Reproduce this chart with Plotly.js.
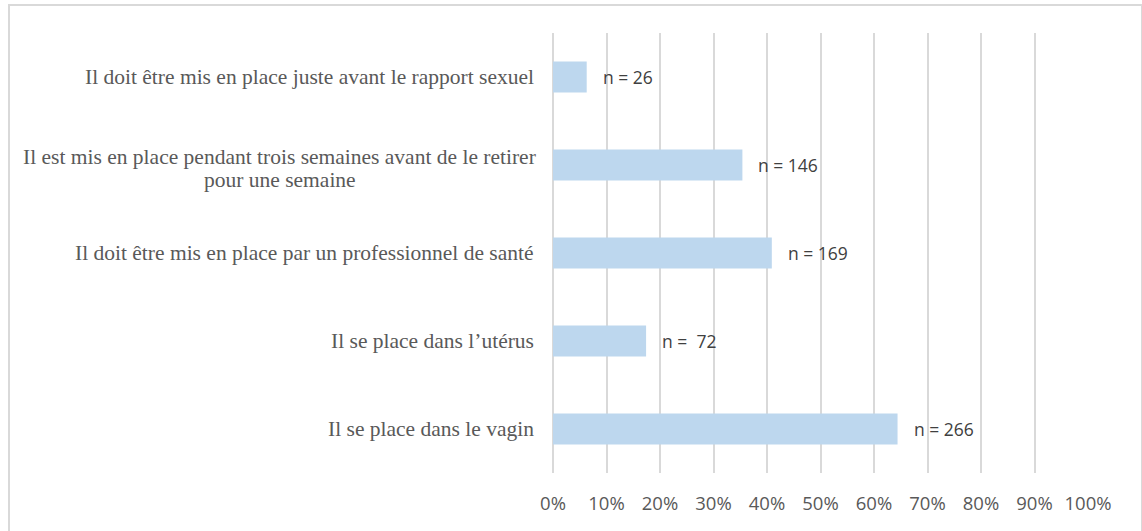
<!DOCTYPE html>
<html>
<head>
<meta charset="utf-8">
<script src="https://cdn.plot.ly/plotly-3.0.1.min.js"></script>
<style>
html,body{margin:0;padding:0;background:#fff;}
#wrap{position:relative;width:1142px;height:531px;overflow:hidden;}
#chart{width:1142px;height:531px;}
#frame{position:absolute;left:8px;top:4px;width:1131px;height:560px;border:2px solid #d9d9d9;pointer-events:none;}
</style>
</head>
<body>
<div id="wrap"><div id="chart"></div><div id="frame"></div></div>
<script>
const categories = [
  "Il doit être mis en place juste avant le rapport sexuel",
  "Il est mis en place pendant trois semaines avant de le retirer<br>pour une semaine",
  "Il doit être mis en place par un professionnel de santé",
  "Il se place dans l’utérus",
  "Il se place dans le vagin"
];
const percentValues = [6.3, 35.4, 40.9, 17.4, 64.4];
const countLabels = ["n = 26", "n = 146", "n = 169", "n =\u00a0\u00a072", "n = 266"];
const tickValues = [0,10,20,30,40,50,60,70,80,90,100];
const tickLabels = ["0%","10%","20%","30%","40%","50%","60%","70%","80%","90%","100%"];

const trace = {
  type: 'bar',
  orientation: 'h',
  y: categories,
  x: percentValues,
  marker: {color: '#bdd7ee'},
  width: 0.35,
  hoverinfo: 'skip'
};

const annotations = [];
categories.forEach((c, i) => {
  const lines = c.split('<br>');
  const n = lines.length;
  lines.forEach((ln, k) => {
    const off = n > 1 ? (k - (n - 1) / 2) * 23 + 3 : 0;
    annotations.push({
      xref: 'paper', yref: 'y', x: 0, y: c,
      xanchor: lines.length > 1 ? 'center' : 'right', yanchor: 'middle',
      xshift: 0, yshift: -off, showarrow: false, text: ln,
      font: {family: 'Liberation Serif', size: 21.5, color: '#595959'},
      _line: k, _n: n
    });
  });
  annotations.push({
    xref: 'x', yref: 'y', x: percentValues[i], y: c,
    xanchor: 'left', yanchor: 'middle',
    xshift: 14, showarrow: false, text: countLabels[i],
    font: {family: 'Open Sans', size: 17.5, color: '#404040'}
  });
});
// place category labels: single lines right-aligned at 17px left of the plot; multi-line blocks centred on the widest line
const plotLeft = 553;
annotations.forEach(a => {
  if (a._n === undefined) return;
  if (a._n === 1) { a.xshift = -17; }
});

const layout = {
  width: 1142, height: 531,
  margin: {l: 553, r: 54, t: 33, b: 58},
  paper_bgcolor: '#ffffff', plot_bgcolor: '#ffffff',
  showlegend: false,
  xaxis: {
    range: [0, 100], tickvals: tickValues, ticktext: tickLabels,
    showgrid: true, gridcolor: '#d9d9d9', gridwidth: 2,
    zeroline: true, zerolinecolor: '#d9d9d9', zerolinewidth: 2,
    showline: false, ticks: '', ticklabelstandoff: 17,
    tickfont: {family: 'Open Sans', size: 18.5, color: '#595959'},
    fixedrange: true
  },
  yaxis: {
    autorange: 'reversed', showticklabels: false, showgrid: false,
    zeroline: false, showline: false, ticks: '', fixedrange: true
  },
  annotations: []
};

Plotly.newPlot('chart', [trace], layout, {displayModeBar: false, staticPlot: true}).then(gd => {
  // measure the widest line of multi-line labels and centre all its lines on it
  const multi = annotations.filter(a => a._n > 1);
  const clean = annotations.map(a => { const b = Object.assign({}, a); delete b._line; delete b._n; return b; });
  // temporary draw to measure width
  const canvas = document.createElement('canvas');
  const ctx = canvas.getContext('2d');
  ctx.font = '21.5px "Liberation Serif"';
  const groups = {};
  annotations.forEach((a, idx) => { if (a._n > 1) { (groups[a.y] = groups[a.y] || []).push(idx); } });
  Object.keys(groups).forEach(key => {
    const idxs = groups[key];
    const w = Math.max(...idxs.map(j => ctx.measureText(annotations[j].text).width));
    idxs.forEach(j => { clean[j].xshift = -17 - w / 2; });
  });
  return Plotly.relayout(gd, {annotations: clean});
});
</script>
</body>
</html>
